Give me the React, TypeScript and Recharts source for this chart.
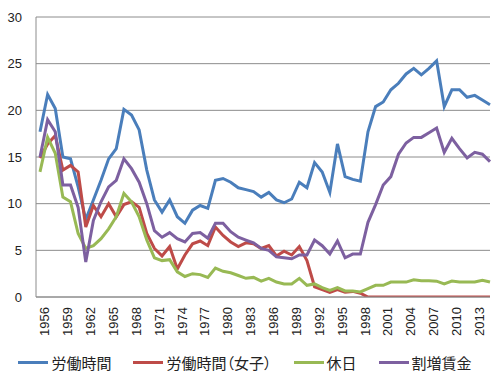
import { CartesianGrid, Legend, Line, LineChart, XAxis, YAxis } from "recharts";

const years = [
  "1956", "1957", "1958", "1959", "1960", "1961", "1962", "1963", "1964", "1965",
  "1966", "1967", "1968", "1969", "1970", "1971", "1972", "1973", "1974", "1975",
  "1976", "1977", "1978", "1979", "1980", "1981", "1982", "1983", "1984", "1985",
  "1986", "1987", "1988", "1989", "1990", "1991", "1992", "1993", "1994", "1995",
  "1996", "1997", "1998", "1999", "2000", "2001", "2002", "2003", "2004", "2005",
  "2006", "2007", "2008", "2009", "2010", "2011", "2012", "2013", "2014", "2015",
];

const laborHours = [
  17.7, 21.7, 20.2, 15.0, 14.8, 11.8, 8.3, 10.4, 12.5, 14.8,
  15.9, 20.1, 19.5, 17.9, 13.6, 10.4, 9.1, 10.4, 8.6, 7.9,
  9.3, 9.8, 9.5, 12.5, 12.7, 12.3, 11.7, 11.5, 11.3, 10.7,
  11.2, 10.4, 10.1, 10.5, 12.3, 11.7, 14.4, 13.4, 11.2, 16.4,
  12.9, 12.6, 12.4, 17.7, 20.4, 20.9, 22.2, 22.9, 23.9, 24.5,
  23.8, 24.5, 25.3, 20.4, 22.2, 22.2, 21.4, 21.6, 21.1, 20.6,
];

const laborHoursWomen = [
  14.9, 16.4, 17.3, 13.6, 14.1, 13.4, 7.5, 9.8, 8.6, 10.0,
  8.6, 9.9, 10.2, 9.6, 6.8, 5.2, 4.4, 5.4, 3.0, 4.5,
  5.7, 6.0, 5.5, 7.5, 6.6, 5.9, 5.4, 5.8, 5.7, 5.2,
  5.5, 4.4, 4.9, 4.5, 5.4, 3.9, 1.1, 0.8, 0.5, 0.8,
  0.5, 0.6, 0.4, 0, 0, 0, 0, 0, 0, 0,
  0, 0, 0, 0, 0, 0, 0, 0, 0, 0,
];

const holidays = [
  13.4, 17.1, 15.4, 10.7, 10.2, 6.8, 5.2, 5.5, 6.25, 7.3,
  8.6, 11.1, 10.2, 8.6, 6.1, 4.2, 3.9, 4.0, 2.7, 2.2,
  2.5, 2.4, 2.1, 3.1, 2.75, 2.6, 2.3, 2.0, 2.1, 1.7,
  2.0, 1.6, 1.4, 1.4, 2.0, 1.25, 1.4, 1.0, 0.7, 1.0,
  0.65, 0.65, 0.55, 0.9, 1.25, 1.25, 1.6, 1.6, 1.6, 1.85,
  1.75, 1.75, 1.7, 1.4, 1.7, 1.6, 1.6, 1.6, 1.8, 1.6,
];

const premiumWages = [
  15.0, 19.0, 17.7, 12.0, 12.0, 9.6, 3.75, 8.2, 10.2, 11.8,
  12.5, 14.8, 13.75, 12.3, 10.0, 7.1, 6.4, 6.9, 6.25, 5.9,
  6.8, 6.9, 6.3, 7.9, 7.9, 7.0, 6.4, 6.1, 5.8, 5.2,
  5.0, 4.3, 4.2, 4.1, 4.5, 4.5, 6.1, 5.5, 4.6, 6.0,
  4.2, 4.6, 4.6, 8.0, 9.9, 12.0, 12.9, 15.3, 16.5, 17.1,
  17.1, 17.6, 18.1, 15.5, 17.0, 15.9, 14.9, 15.5, 15.3, 14.5,
];

const yTicks = [0, 5, 10, 15, 20, 25, 30];

const series = [
  { key: "laborHours", name: "労働時間", color: "#4A7EBB" },
  { key: "laborHoursWomen", name: "労働時間（女子）", color: "#BE4B48" },
  { key: "holidays", name: "休日", color: "#98B954" },
  { key: "premiumWages", name: "割増賃金", color: "#7D60A0" },
];

const data = years.map((year, i) => ({
  year,
  laborHours: laborHours[i],
  laborHoursWomen: laborHoursWomen[i],
  holidays: holidays[i],
  premiumWages: premiumWages[i],
}));

const font = "'Liberation Sans', Arial, 'Noto Sans CJK JP', sans-serif";

function LegendBox() {
  return (
    <div
      style={{
        display: "flex",
        justifyContent: "center",
        alignItems: "center",
        gap: 22,
        fontFamily: "'Noto Sans CJK JP', sans-serif",
        fontSize: 15,
        fontFeatureSettings: '"palt"',
        color: "#222",
        height: 22,
      }}
    >
      {series.map((s) => (
        <div key={s.key} style={{ display: "flex", alignItems: "center" }}>
          <span style={{ display: "inline-block", width: 30, height: 3, background: s.color, marginRight: 3 }} />
          <span>{s.name}</span>
        </div>
      ))}
    </div>
  );
}

export default function App() {
  return (
    <div style={{ position: "absolute", left: 0, top: 0, width: 500, height: 387, background: "#fff" }}>
      <LineChart width={500} height={387} data={data} margin={{ top: 17, right: 10, bottom: 14, left: 0 }}>
        <CartesianGrid vertical={false} stroke="#8c8c8c" />
        <XAxis
          dataKey="year"
          interval={2}
          angle={-90}
          textAnchor="end"
          tick={{ fontSize: 13, fill: "#222", fontFamily: font, verticalAnchor: "middle" } as any}
          tickLine={false}
          tickSize={0}
          tickMargin={10}
          axisLine={{ stroke: "#8c8c8c" }}
          height={54}
          padding={{ left: 4, right: 0 }}
        />
        <YAxis
          type="number"
          domain={[0, 30]}
          allowDataOverflow
          ticks={yTicks}
          width={36}
          tickSize={0}
          tickMargin={14}
          axisLine={{ stroke: "#8c8c8c" }}
          tick={{ fontSize: 13, fill: "#222", fontFamily: font }}
        />
        <Legend verticalAlign="bottom" content={<LegendBox />} />
        {series.map((s) => (
          <Line
            key={s.key}
            type="linear"
            dataKey={s.key}
            name={s.name}
            stroke={s.color}
            strokeWidth={3}
            dot={false}
            isAnimationActive={false}
          />
        ))}
      </LineChart>
    </div>
  );
}
